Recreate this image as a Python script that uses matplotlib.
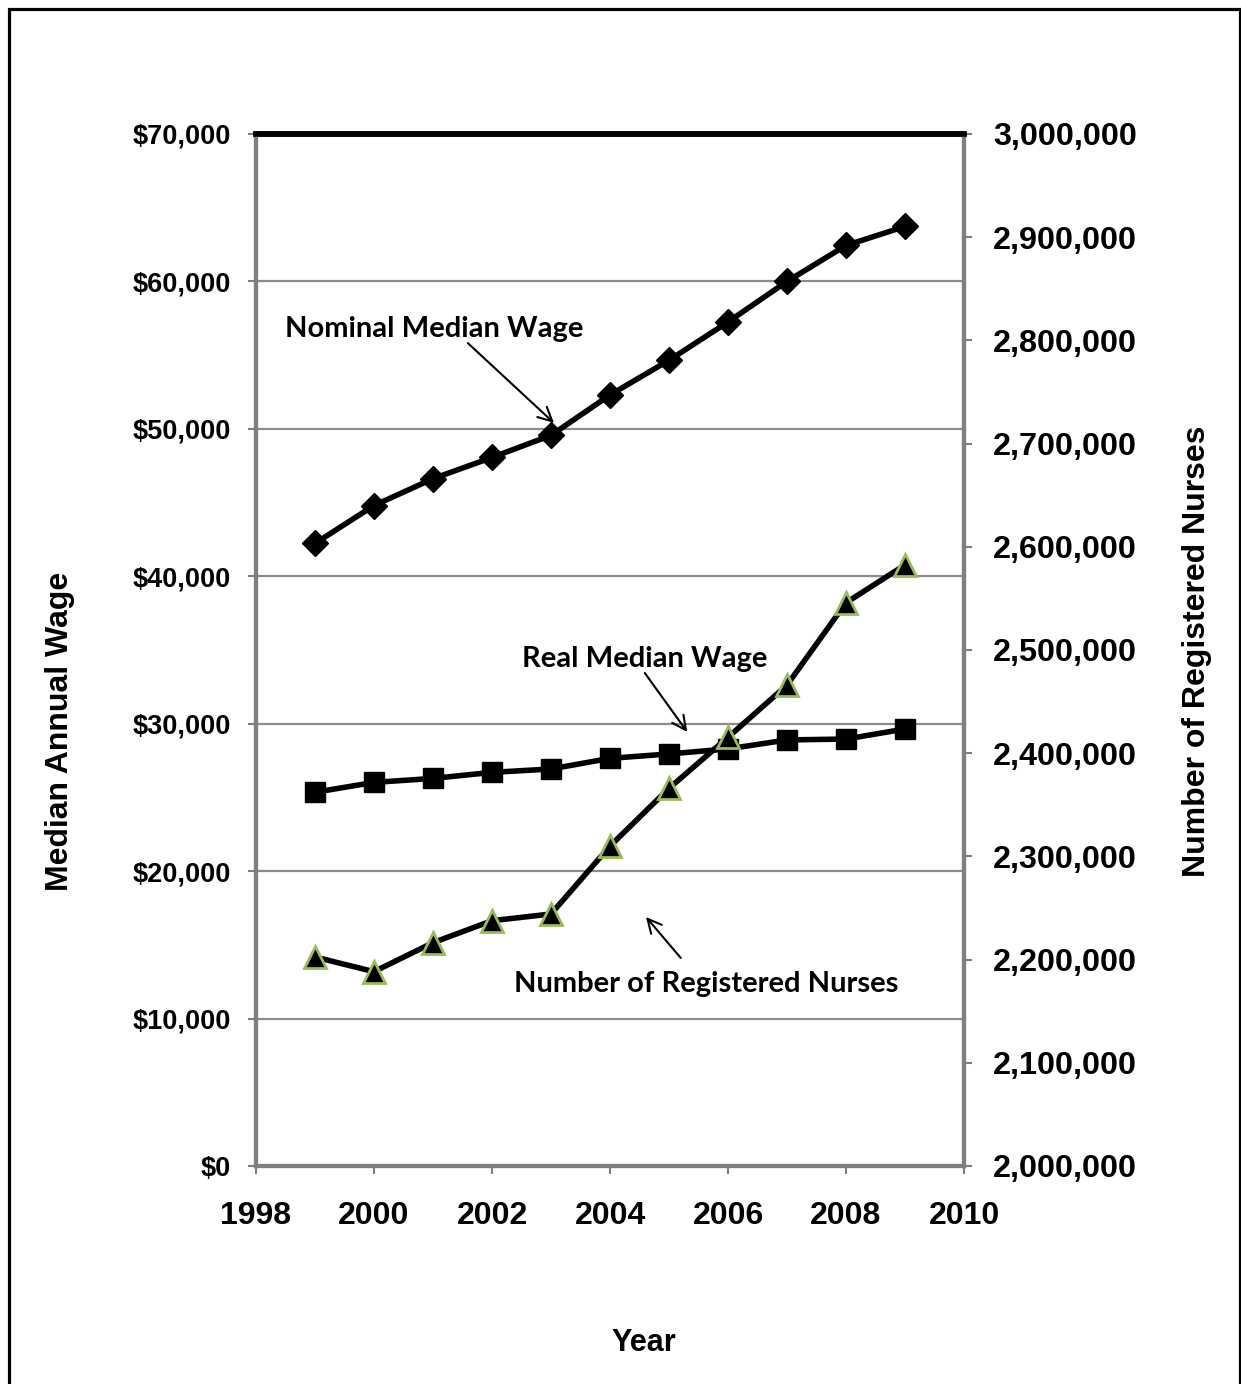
import matplotlib
matplotlib.use('Agg')
import matplotlib.pyplot as plt
from matplotlib.patches import Rectangle
from matplotlib.ticker import FuncFormatter, MultipleLocator

# dati
years = [1999, 2000, 2001, 2002, 2003, 2004, 2005, 2006, 2007, 2008, 2009]
nominal_wage = [42230, 44800, 46620, 48060, 49560, 52300, 54650, 57250, 60000, 62440, 63730]
real_wage = [25350, 26020, 26290, 26700, 26930, 27650, 27950, 28290, 28900, 28960, 29640]
nurses = [2202500, 2188300, 2216400, 2237700, 2244200, 2310000, 2366000, 2415400, 2466000, 2545800, 2582400]

tick_font = 'Liberation Sans'
note_font = 'Lato'

fig = plt.figure(figsize=(12.41, 13.84), dpi=100)
ax = fig.add_axes([256/1241, 218/1384, 708/1241, 1032/1384])
ax2 = ax.twinx()

# griglia orizzontale sull'asse sinistro
ax.set_axisbelow(True)
ax.yaxis.grid(True, color='#8c8c8c', lw=1.6)

ax.plot(years, nominal_wage, color='black', lw=4, marker='D', ms=13, zorder=3)
ax.plot(years, real_wage, color='black', lw=4, marker='s', ms=15, zorder=3)
ax2.plot(years, nurses, color='black', lw=4, marker='^', ms=16,
         markerfacecolor='black', markeredgecolor='#9bbb59', markeredgewidth=2, zorder=3)

ax.set_xlim(1998, 2010)
ax.set_ylim(0, 70000)
ax2.set_ylim(2000000, 3000000)
ax.xaxis.set_major_locator(MultipleLocator(2))
ax.yaxis.set_major_locator(MultipleLocator(10000))
ax2.yaxis.set_major_locator(MultipleLocator(100000))
ax.yaxis.set_major_formatter(FuncFormatter(lambda v, p: '${:,.0f}'.format(v)))
ax2.yaxis.set_major_formatter(FuncFormatter(lambda v, p: '{:,.0f}'.format(v)))

for a in (ax, ax2):
    for s in ('left', 'right', 'bottom'):
        a.spines[s].set_color('#7f7f7f')
        a.spines[s].set_linewidth(3)
    a.spines['top'].set_color('black')
    a.spines['top'].set_linewidth(4)
ax.patch.set_edgecolor('black')
ax.patch.set_linewidth(1.5)

ax.tick_params(axis='y', direction='out', length=6, width=1.5, color='#7f7f7f', pad=12)
ax.tick_params(axis='x', direction='out', length=6, width=1.5, color='#7f7f7f', pad=19)
ax2.tick_params(axis='y', direction='out', length=6, width=1.5, color='#7f7f7f', pad=15)

for lab in ax.get_yticklabels():
    lab.set_fontfamily(tick_font)
    lab.set_fontweight('bold')
    lab.set_fontsize(19.5)
for lab in ax.get_xticklabels():
    lab.set_fontfamily(tick_font)
    lab.set_fontweight('bold')
    lab.set_fontsize(23)
for lab in ax2.get_yticklabels():
    lab.set_fontfamily(tick_font)
    lab.set_fontweight('bold')
    lab.set_fontsize(23.3)

ax.set_ylabel('Median Annual Wage', fontfamily=tick_font, fontweight='bold', fontsize=23, va='center')
ax.yaxis.set_label_coords(-0.277, 0.421)
ax2.set_ylabel('Number of Registered Nurses', fontfamily=tick_font, fontweight='bold', fontsize=23,
               va='center', rotation=90)
ax2.yaxis.set_label_coords(1.329, 0.4985)
ax.set_xlabel('Year', fontfamily=tick_font, fontweight='bold', fontsize=22, va='center')
ax.xaxis.set_label_coords(0.548, -0.1715)

# etichette con frecce
notes = [
    ('Nominal Median Wage', (2001.02, 56770), (2001.59, 55820), (2003.05, 50400)),
    ('Real Median Wage', (2004.59, 34390), (2004.59, 33440), (2005.31, 29440)),
    ('Number of Registered Nurses', (2005.63, 12340), (2005.20, 14110), (2004.61, 16890)),
]
for text, pos, tail, head in notes:
    ax.text(pos[0], pos[1], text, ha='center', va='center', fontfamily=note_font,
            fontweight='bold', fontsize=21, zorder=5)
    ax.annotate('', xy=head, xytext=tail,
                arrowprops=dict(arrowstyle='->', lw=1.5, color='black', mutation_scale=25,
                                shrinkA=0, shrinkB=0), zorder=5)

# cornice esterna
fig.add_artist(Rectangle((8.5/1241, -0.02), (1239.5-8.5)/1241, (1384-8.5)/1384 + 0.02,
                         transform=fig.transFigure, fill=False, lw=2.3, edgecolor='black'))

plt.savefig('out.png', dpi=100)
